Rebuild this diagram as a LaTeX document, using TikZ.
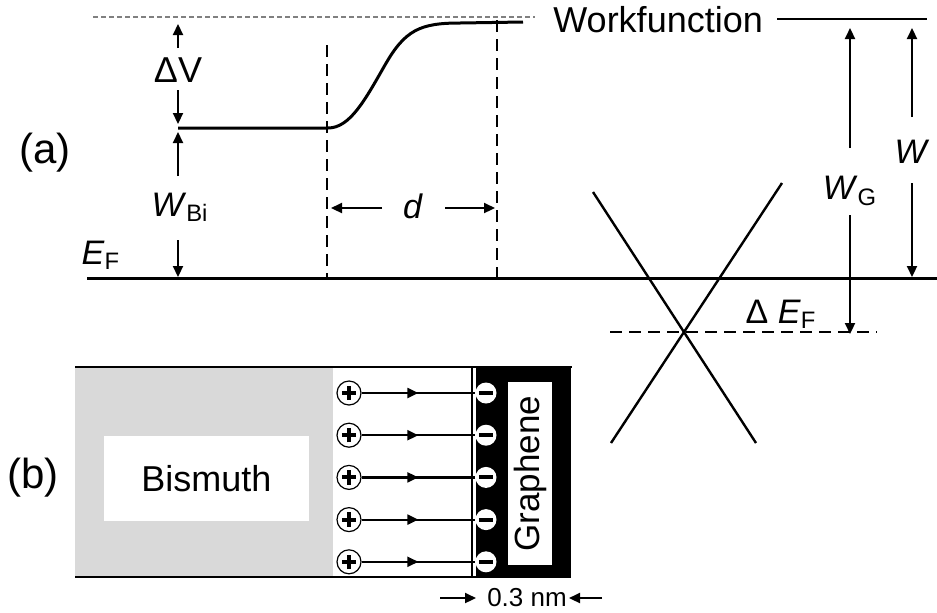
\documentclass[tikz,border=0pt]{standalone}
\usepackage{fontspec}
\setmainfont{Liberation Sans}
\usetikzlibrary{arrows.meta,decorations.markings}

\definecolor{bigray}{RGB}{217,217,217}

\tikzset{
    lvl/.style={line width=1.5pt},
    arr/.style={line width=1.1pt, -{Triangle[length=5.5pt,width=5pt]}},
    bnd/.style={line width=1.4pt, dash pattern=on 6pt off 3.5pt},
    lab/.style={font=\fontsize{17}{20}\selectfont, inner sep=0pt},
    panel/.style={font=\fontsize{21}{24}\selectfont, inner sep=0pt},
    pluscharge/.style={circle, draw, line width=0.6pt, fill=white,
        minimum size=12pt, inner sep=0pt,
        path picture={\draw[line width=2pt]
            ([xshift=-3.6pt]path picture bounding box.center) -- ++(7.2pt,0)
            ([yshift=-3.6pt]path picture bounding box.center) -- ++(0,7.2pt);}},
    minuscharge/.style={circle, fill=white, minimum size=10.5pt, inner sep=0pt,
        path picture={\draw[line width=2pt]
            ([xshift=-3.6pt]path picture bounding box.center) -- ++(7.2pt,0);}},
    field/.style={line width=1.1pt, postaction={decorate},
        decoration={markings, mark=at position 0.5 with
            {\arrow{Triangle[length=5.5pt,width=5pt]}}}},
}

\begin{document}
\begin{tikzpicture}[x=0.5pt,y=-0.5pt]
    \useasboundingbox (0,0) rectangle (937,612);

    % panel labels
        \node[panel] (pa) at (45,153) {(a)};
        \node[panel] (pb) at (33,478) {(b)};

    % Fermi level and vacuum reference
        \coordinate (EFl) at (87,278);
        \coordinate (EFr) at (937,278);
        \draw[lvl] (EFl) -- (EFr);
        \coordinate (vacl) at (93,17);
        \coordinate (vacr) at (535,17);
        \draw[gray, line width=0.6pt, dash pattern=on 2.5pt off 1.5pt] (vacl) -- (vacr);
        \node[lab, anchor=center] (EF) at (101,255) {\textit{E}\textsubscript{F}};

    % potential step across the interface
        \coordinate (Bi) at (178,128);
        \coordinate (s0) at (328,128);
        \coordinate (s1) at (460,23);
        \coordinate (vac) at (523,22);
        \draw[lvl] (Bi) -- (s0) .. controls (350,128) and (365,100) .. (385,65)
            .. controls (405,30) and (420,23) .. (s1) -- (vac);

    % dashed boundaries of the dipole layer
        \coordinate (b1t) at (327,45);
        \coordinate (b1b) at (327,278);
        \coordinate (b2t) at (497,20);
        \coordinate (b2b) at (497,278);
        \draw[bnd] (b1t) -- (b1b);
        \draw[bnd] (b2t) -- (b2b);

    % Delta V and W_Bi
        \node[lab, font=\fontsize{18}{20}\selectfont] (dV) at (178,70) {ΔV};
        \coordinate (dVu) at (178,48);  \coordinate (dVu2) at (178,24);
        \coordinate (dVd) at (178,90);  \coordinate (dVd2) at (178,124);
        \draw[arr] (dVu) -- (dVu2);
        \draw[arr] (dVd) -- (dVd2);
        \node[lab] (WBi) at (180,207) {\textit{W}\textsubscript{Bi}};
        \coordinate (Wu) at (178,176);  \coordinate (Wu2) at (178,132);
        \coordinate (Wd) at (178,240);  \coordinate (Wd2) at (178,277);
        \draw[arr] (Wu) -- (Wu2);
        \draw[arr] (Wd) -- (Wd2);

    % width d
        \node[lab] (d) at (413,206) {\textit{d}};
        \coordinate (dl) at (382,208);  \coordinate (dl2) at (331,208);
        \coordinate (dr) at (445,208);  \coordinate (dr2) at (495,208);
        \draw[arr] (dl) -- (dl2);
        \draw[arr] (dr) -- (dr2);

    % work function
        \node[lab, anchor=west, font=\fontsize{18}{20}\selectfont] (wf) at (553,20) {Workfunction};
        \coordinate (wfl) at (777,19);
        \coordinate (wfr) at (927,19);
        \draw[line width=1.2pt] (wfl) -- (wfr);

    % Dirac cone
        \coordinate (K) at (683,332);
        \coordinate (c1) at (593,192);  \coordinate (c2) at (756,443);
        \coordinate (c3) at (782,183);  \coordinate (c4) at (611,443);
        \draw[line width=1.2pt] (c1) -- (c2);
        \draw[line width=1.2pt] (c3) -- (c4);
        \coordinate (nl) at (610,332);
        \coordinate (nr) at (877,332);
        \draw[bnd] (nl) -- (nr);
        \node[lab] (dEF) at (781,314) {Δ \textit{E}\textsubscript{F}};

    % W_G and W
        \node[lab] (WG) at (850,191) {\textit{W}\textsubscript{G}};
        \coordinate (WGu) at (850,148);  \coordinate (WGu2) at (850,28);
        \coordinate (WGd) at (850,215);  \coordinate (WGd2) at (850,334);
        \draw[arr] (WGu) -- (WGu2);
        \draw[arr] (WGd) -- (WGd2);
        \node[lab] (W) at (912,152) {\textit{W}};
        \coordinate (Wgu) at (912,117);  \coordinate (Wgu2) at (912,28);
        \coordinate (Wgd) at (912,183);  \coordinate (Wgd2) at (912,277);
        \draw[arr] (Wgu) -- (Wgu2);
        \draw[arr] (Wgd) -- (Wgd2);

    % (b) bismuth / graphene stack
        \fill[bigray] (75,367) rectangle (333,577);
        \node[fill=white, minimum width=102.5pt, minimum height=42.5pt,
            inner sep=0pt, font=\fontsize{18}{20}\selectfont] (bis) at (206.5,478.5) {Bismuth};
        \fill[black] (476,367) rectangle (571,578);
        \draw[line width=0.6pt] (472,367) -- (472,577);
        \draw[line width=1.2pt] (75,367) -- (572,367);
        \draw[line width=1.2pt] (75,577) -- (476,577);
        \node[fill=white, rotate=90, minimum width=91.5pt, minimum height=22pt,
            inner sep=0pt, font=\fontsize{17.5}{20}\selectfont] (gr) at (530,473.5) {Graphene};

    % charges and field lines
        \foreach \i in {0,...,4} {
            \pgfmathsetmacro\yy{393+42.2*\i}
            \node[pluscharge] (p\i) at (349,\yy) {};
            \node[minuscharge] (m\i) at (486,\yy) {};
            \draw[field] (p\i) -- (m\i);
        }

    % spacing 0.3 nm
        \node[lab, font=\fontsize{13}{15}\selectfont] (sp) at (527,598) {0.3 nm};
        \coordinate (spl) at (440,598);  \coordinate (spl2) at (476,598);
        \coordinate (spr) at (602,598);  \coordinate (spr2) at (569,598);
        \draw[arr] (spl) -- (spl2);
        \draw[arr] (spr) -- (spr2);

\end{tikzpicture}
\end{document}
